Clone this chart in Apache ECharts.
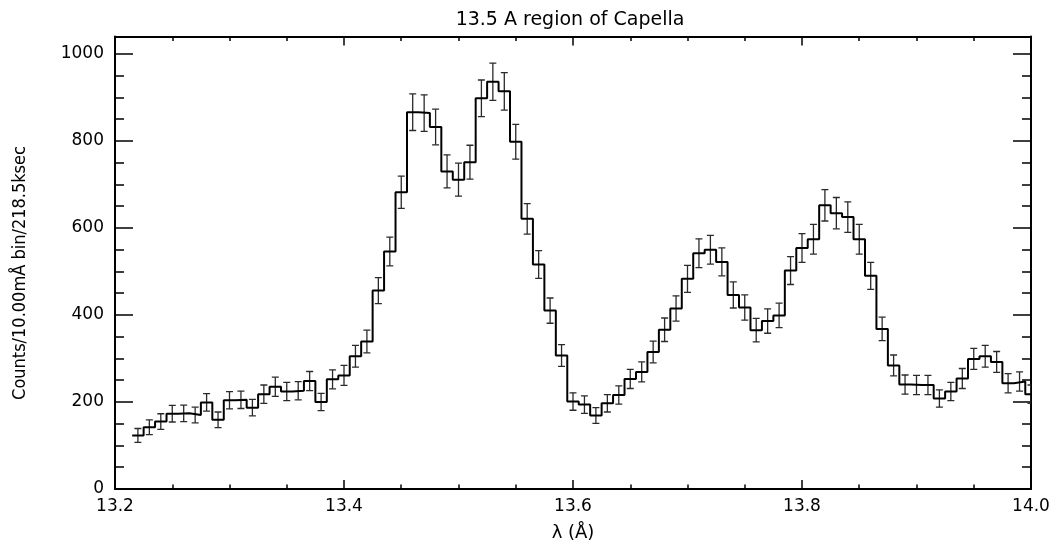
<!DOCTYPE html>
<html>
<head>
<meta charset="utf-8">
<script src="https://cdn.jsdelivr.net/npm/echarts@6/dist/echarts.min.js"></script>
<style>
html,body{margin:0;padding:0;background:#fff;}
#chart{width:1061px;height:547px;}
</style>
</head>
<body>
<div id="chart"></div>
<script>
// ---- data ----
const wavelengths = [
  13.22, 13.23, 13.24, 13.25, 13.26, 13.27, 13.28, 13.29, 13.30, 13.31,
  13.32, 13.33, 13.34, 13.35, 13.36, 13.37, 13.38, 13.39, 13.40, 13.41,
  13.42, 13.43, 13.44, 13.45, 13.46, 13.47, 13.48, 13.49, 13.50, 13.51,
  13.52, 13.53, 13.54, 13.55, 13.56, 13.57, 13.58, 13.59, 13.60, 13.61,
  13.62, 13.63, 13.64, 13.65, 13.66, 13.67, 13.68, 13.69, 13.70, 13.71,
  13.72, 13.73, 13.74, 13.75, 13.76, 13.77, 13.78, 13.79, 13.80, 13.81,
  13.82, 13.83, 13.84, 13.85, 13.86, 13.87, 13.88, 13.89, 13.90, 13.91,
  13.92, 13.93, 13.94, 13.95, 13.96, 13.97, 13.98, 13.99, 14.00
];
const counts = [
  123, 142, 155, 173, 174, 170, 199, 159, 204, 205,
  187, 218, 235, 224, 226, 248, 200, 252, 261, 305,
  339, 456, 546, 682, 866, 864, 832, 730, 711, 751,
  898, 936, 914, 798, 621, 516, 410, 307, 201, 194,
  169, 197, 216, 253, 269, 315, 366, 415, 483, 542,
  550, 522, 446, 417, 365, 386, 399, 502, 554, 574,
  652, 634, 625, 574, 490, 368, 284, 240, 239, 239,
  208, 224, 254, 299, 305, 292, 243, 247, 218
];
const errors = [
  16, 17, 18, 19, 19, 18, 20, 18, 20, 20,
  19, 21, 22, 21, 21, 22, 20, 22, 23, 25,
  26, 30, 33, 37, 42, 42, 41, 38, 38, 39,
  42, 43, 43, 40, 35, 32, 29, 25, 20, 20,
  18, 20, 21, 22, 23, 25, 27, 29, 31, 33,
  33, 32, 30, 29, 27, 28, 28, 32, 33, 34,
  36, 36, 35, 34, 31, 27, 24, 22, 22, 22,
  20, 21, 23, 24, 25, 24, 22, 22, 21
];
const binWidth = 0.01;
const xTickLabels = ['13.2', '13.4', '13.6', '13.8', '14.0'];
const yTickLabels = ['0', '200', '400', '600', '800', '1000'];
const titleText = '13.5 A region of Capella';
const xName = 'λ (Å)';
const yName = 'Counts/10.00mÅ bin/218.5ksec';

// ---- build series data ----
const stepData = wavelengths.map((w, i) => [w - binWidth / 2, counts[i]]);
stepData.push([wavelengths[wavelengths.length - 1] + binWidth / 2, counts[counts.length - 1]]);
const errData = wavelengths.map((w, i) => [w, counts[i], errors[i]]);

const X_MIN = 13.2, X_MAX = 14.0, X_INT = 0.2, X_MINOR = 0.05;
const Y_MIN = 0, Y_MAX = 1040, Y_INT = 200, Y_MINOR = 50;

const FONT = "'DejaVu Sans', sans-serif";
const black = '#000';

function xLabel(v) {
  const i = Math.round((v - X_MIN) / X_INT);
  return (Math.abs(X_MIN + i * X_INT - v) < 1e-6 && xTickLabels[i] !== undefined) ? xTickLabels[i] : '';
}
function yLabel(v) {
  const i = Math.round((v - Y_MIN) / Y_INT);
  return (Math.abs(Y_MIN + i * Y_INT - v) < 1e-6 && yTickLabels[i] !== undefined) ? yTickLabels[i] : '';
}

function xAxisDef(pos, interval, tickLen, major) {
  return {
    type: 'value', position: pos, min: X_MIN, max: X_MAX, interval: interval,
    axisLine: { show: major, onZero: false, lineStyle: { color: black, width: 2 } },
    axisTick: { show: true, inside: true, length: tickLen, lineStyle: { color: black, width: 1.5 } },
    axisLabel: (major && pos === 'bottom') ? {
      show: true, formatter: xLabel, color: black, fontSize: 17, fontFamily: FONT, margin: 9
    } : { show: false },
    splitLine: { show: false },
    name: (major && pos === 'bottom') ? xName : '',
    nameLocation: 'middle', nameGap: 35,
    nameTextStyle: { color: black, fontSize: 18, fontFamily: FONT }
  };
}
function yAxisDef(pos, interval, tickLen, major) {
  return {
    type: 'value', position: pos, min: Y_MIN, max: Y_MAX, interval: interval,
    axisLine: { show: major, onZero: false, lineStyle: { color: black, width: 2 } },
    axisTick: { show: true, inside: true, length: tickLen, lineStyle: { color: black, width: 1.5 } },
    axisLabel: (major && pos === 'left') ? {
      show: true, formatter: yLabel, showMaxLabel: false, color: black, fontSize: 17, fontFamily: FONT, margin: 11
    } : { show: false },
    splitLine: { show: false }
  };
}

const chart = echarts.init(document.getElementById('chart'), null, { renderer: 'canvas' });
chart.setOption({
  backgroundColor: '#fff',
  animation: false,
  grid: { left: 115, right: 30, top: 36.5, bottom: 52.5, containLabel: false },
  graphic: [
    {
      type: 'text', x: 570, y: 20,
      style: { text: titleText, fill: black, font: "19px 'DejaVu Sans', sans-serif", textAlign: 'center', textVerticalAlign: 'middle' }
    },
    {
      type: 'text', x: 20, y: 273, rotation: Math.PI / 2,
      style: { text: yName, fill: black, font: "18px 'Liberation Sans Narrow', 'DejaVu Sans Condensed', sans-serif", textAlign: 'center', textVerticalAlign: 'middle' }
    }
  ],
  xAxis: [
    xAxisDef('bottom', X_INT, 9, true),
    xAxisDef('bottom', X_MINOR, 4.5, false),
    xAxisDef('top', X_INT, 9, true),
    xAxisDef('top', X_MINOR, 4.5, false)
  ],
  yAxis: [
    yAxisDef('left', Y_INT, 18, true),
    yAxisDef('left', Y_MINOR, 9, false),
    yAxisDef('right', Y_INT, 18, true),
    yAxisDef('right', Y_MINOR, 9, false)
  ],
  series: [
    {
      type: 'custom', xAxisIndex: 0, yAxisIndex: 0, clip: true, z: 2,
      data: errData,
      renderItem: function (params, api) {
        const x = api.value(0), y = api.value(1), e = api.value(2);
        const top = api.coord([x, y + e]);
        const bot = api.coord([x, y - e]);
        const cap = 3.5;
        const st = { stroke: '#2a2a2a', lineWidth: 1.3 };
        return {
          type: 'group',
          children: [
            { type: 'line', shape: { x1: top[0], y1: top[1], x2: bot[0], y2: bot[1] }, style: st },
            { type: 'line', shape: { x1: top[0] - cap, y1: top[1], x2: top[0] + cap, y2: top[1] }, style: st },
            { type: 'line', shape: { x1: bot[0] - cap, y1: bot[1], x2: bot[0] + cap, y2: bot[1] }, style: st }
          ]
        };
      }
    },
    {
      type: 'line', xAxisIndex: 0, yAxisIndex: 0, step: 'end', clip: true, z: 3,
      data: stepData, symbol: 'none', showSymbol: false,
      lineStyle: { color: black, width: 2 }
    }
  ]
});
</script>
</body>
</html>
